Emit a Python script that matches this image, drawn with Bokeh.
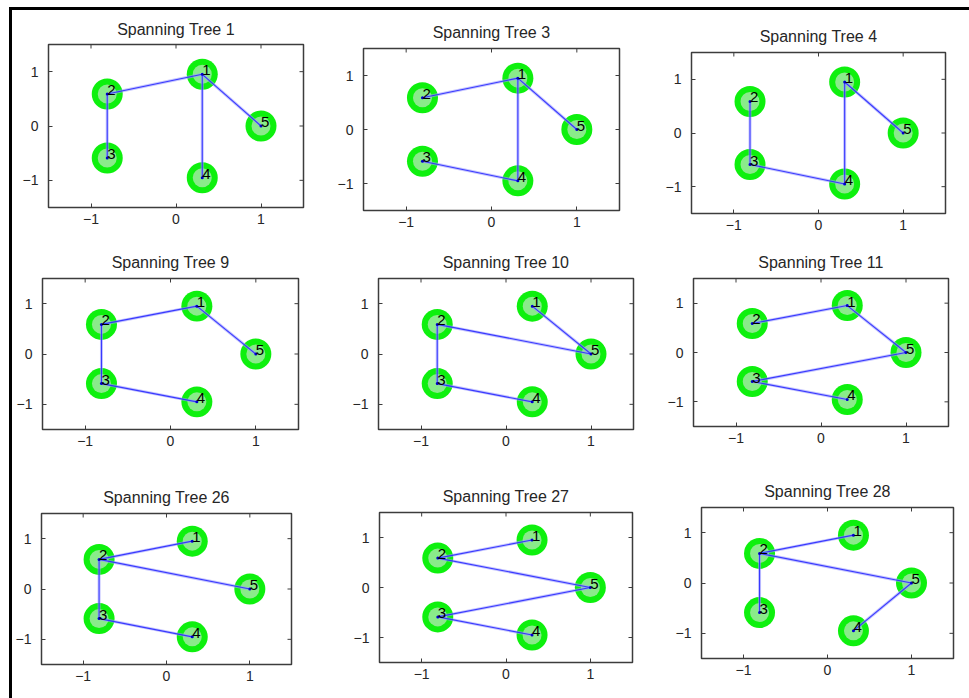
import math
from bokeh.plotting import figure
from bokeh.layouts import row, column
from bokeh.models import FixedTicker, Range1d, ColumnDataSource, Spacer
from bokeh.core.properties import value
from bokeh.embed import file_html
from bokeh.resources import INLINE

# Graph: five nodes on a regular pentagon
node_ids = ["1", "2", "3", "4", "5"]
node_x = [0.309, -0.809, -0.809, 0.309, 1.0]
node_y = [0.951, 0.588, -0.588, -0.951, 0.0]

# Spanning trees shown, and the edges (node pairs) of each one
tree_numbers = [1, 3, 4, 9, 10, 11, 26, 27, 28]
tree_edges = [
    [(2, 1), (1, 5), (2, 3), (1, 4)],
    [(2, 1), (1, 5), (1, 4), (3, 4)],
    [(2, 3), (1, 4), (1, 5), (3, 4)],
    [(2, 1), (1, 5), (2, 3), (3, 4)],
    [(1, 5), (2, 5), (2, 3), (3, 4)],
    [(2, 1), (1, 5), (3, 5), (3, 4)],
    [(2, 1), (2, 5), (2, 3), (3, 4)],
    [(2, 1), (2, 5), (3, 5), (3, 4)],
    [(2, 1), (2, 5), (2, 3), (4, 5)],
]
axis_ticks = [-1, 0, 1]
AX_LO, AX_HI = -1.5, 1.5

# Panel geometry: column x-start/width, row y-start/height, and plot frames (page px)
col_x = [12, 330, 650]
col_w = [318, 320, 319]
row_y = [10, 240, 470]
row_h = [230, 230, 228]
frames = [  # left, right, top, bottom
    (48, 303, 44, 207), (363, 619, 48, 210), (691, 945, 52, 213),
    (42, 298, 278, 429), (378, 633, 278, 429), (693, 948, 278, 426),
    (38, 291, 513, 664), (379, 632, 512, 662), (701, 953, 507, 658),
]
MAX_BORDER_TOP = 37
BORDER_BOTTOM = 26

FONT = "Liberation Sans"
OUTER_GREEN = "#0ef00e"
INNER_GREEN = "#8aeb8a"
EDGE_BLUE = "#2a2aff"
EDGE_HALO = "#9c9cff"
FRAME_COLOR = "#3c3c3c"
TEXT_COLOR = "#262626"


def make_cell(k):
    r, c = divmod(k, 3)
    L, R, T, B = frames[k]
    w = col_w[c]
    border_top = min(MAX_BORDER_TOP, T - row_y[r])
    h = border_top + (B - T) + BORDER_BOTTOM
    gap_top = T - border_top - row_y[r]
    gap_bottom = row_y[r] + row_h[r] - (B + BORDER_BOTTOM)

    p = figure(
        width=w, height=h,
        x_range=Range1d(AX_LO, AX_HI), y_range=Range1d(AX_LO, AX_HI),
        output_backend="svg", toolbar_location=None,
        title=f"Spanning Tree {tree_numbers[k]}",
        min_border_left=L - col_x[c], min_border_right=col_x[c] + w - R,
        min_border_top=border_top, min_border_bottom=BORDER_BOTTOM,
        background_fill_color="white", border_fill_color="white",
    )
    p.title.text_font = FONT
    p.title.text_font_size = "16px"
    p.title.text_font_style = "normal"
    p.title.text_color = TEXT_COLOR
    p.title.align = "center"
    p.title.standoff = min(16, border_top - 21)

    p.xgrid.visible = False
    p.ygrid.visible = False
    p.outline_line_color = FRAME_COLOR
    p.outline_line_width = 1.5

    for ax in p.axis:
        ax.ticker = FixedTicker(ticks=axis_ticks)
        ax.axis_line_color = None
        ax.major_tick_in = 4
        ax.major_tick_out = 0
        ax.major_tick_line_color = FRAME_COLOR
        ax.minor_tick_line_color = None
        ax.major_label_text_font = FONT
        ax.major_label_text_font_size = "14px"
        ax.major_label_text_color = TEXT_COLOR
    p.xaxis[0].major_label_standoff = 6
    p.yaxis[0].major_label_standoff = 10

    # inward ticks on the top and right edges of the box
    p.ray(x=axis_ticks, y=[AX_HI] * len(axis_ticks), length=4, length_units="screen",
          angle=-math.pi / 2, line_color=FRAME_COLOR, line_width=1)
    p.ray(x=[AX_HI] * len(axis_ticks), y=axis_ticks, length=4, length_units="screen",
          angle=math.pi, line_color=FRAME_COLOR, line_width=1)

    nodes = ColumnDataSource(dict(x=node_x, y=node_y, name=node_ids))
    p.scatter("x", "y", source=nodes, size=31, fill_color=OUTER_GREEN, line_color=None)
    p.scatter("x", "y", source=nodes, size=19, fill_color=INNER_GREEN, line_color=None)

    xs = [[node_x[a - 1], node_x[b - 1]] for a, b in tree_edges[k]]
    ys = [[node_y[a - 1], node_y[b - 1]] for a, b in tree_edges[k]]
    p.multi_line(xs, ys, line_color=EDGE_HALO, line_width=3, line_alpha=0.6)
    p.multi_line(xs, ys, line_color=EDGE_BLUE, line_width=1.1, line_alpha=0.9)
    p.scatter("x", "y", source=nodes, size=3, fill_color="#0000cc", line_color=None)

    p.text("x", "y", text="name", source=nodes, text_font=value(FONT),
           text_font_size="15px", text_color="black",
           text_align="left", text_baseline="middle", y_offset=-4)

    parts = []
    if gap_top > 0:
        parts.append(Spacer(width=w, height=gap_top))
    parts.append(p)
    if gap_bottom > 0:
        parts.append(Spacer(width=w, height=gap_bottom))
    return column(parts, spacing=0)


cells = [make_cell(k) for k in range(9)]
layout = column(
    row(cells[0:3], spacing=0),
    row(cells[3:6], spacing=0),
    row(cells[6:9], spacing=0),
    spacing=0,
    styles={"margin-left": "9px", "margin-top": "7px",
            "border-left": "3px solid black", "border-top": "3px solid black"},
)

open("out.html", "w").write(file_html(layout, INLINE))
